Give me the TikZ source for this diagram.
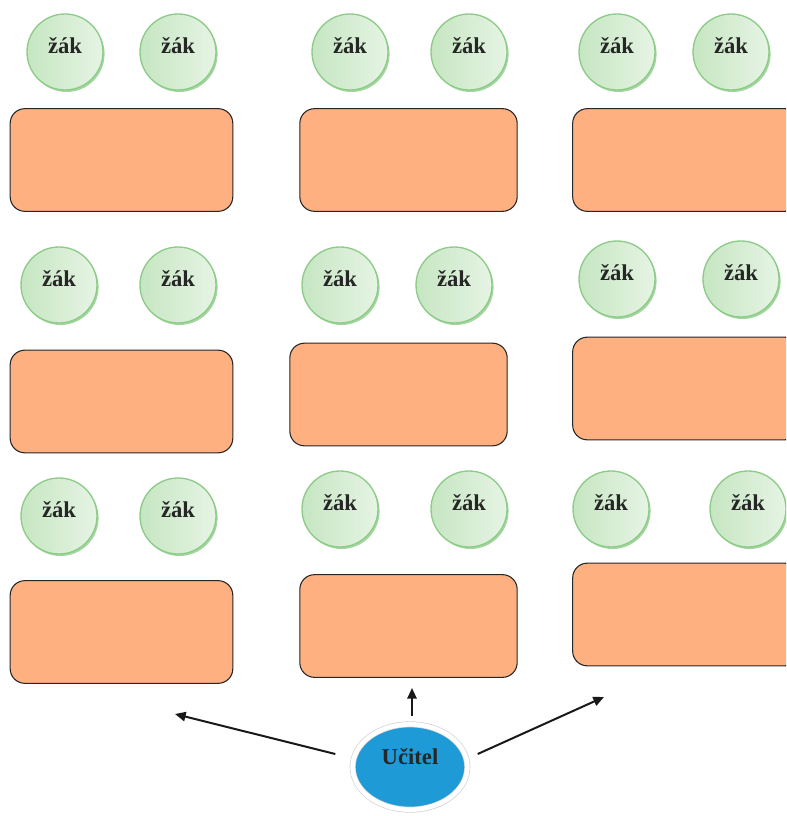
\documentclass[tikz,border=0pt]{standalone}
\usepackage{fontspec}
\setmainfont{Liberation Serif}
\usetikzlibrary{shapes.geometric,shadows,arrows.meta}

\definecolor{zakfill}{HTML}{C6E6C2}
\definecolor{zaklight}{HTML}{E6F4E4}
\definecolor{zakdraw}{HTML}{8DCB88}
\definecolor{lavicefill}{HTML}{FFB081}
\definecolor{ucitelfill}{HTML}{1E9BD7}

\tikzset{
  zak/.style={circle, minimum size=57pt, inner sep=0pt,
    draw=zakdraw, line width=1pt,
    shading=axis, shading angle=45, left color=zakfill, right color=zaklight,
    drop shadow={shadow xshift=1.2pt, shadow yshift=-1.5pt, fill=zakdraw, opacity=0.8},
    font=\fontsize{17}{20}\selectfont\bfseries, text=black!85,
    text height=12pt, text depth=10pt},
  lavice/.style={rectangle, rounded corners=11pt, draw=black!85, line width=0.8pt,
    fill=lavicefill, minimum height=77pt, inner sep=0pt},
  ucitel/.style={ellipse, minimum width=86pt, minimum height=64pt, inner sep=0pt,
    fill=ucitelfill, draw=black!18, line width=0.5pt, double=white, double distance=3.5pt,
    drop shadow={shadow xshift=1.2pt, shadow yshift=-1.8pt, fill=gray!60},
    font=\fontsize{17}{20}\selectfont\bfseries, text=black!85,
    text height=12pt, text depth=16pt},
  sipka/.style={-{Triangle[length=8pt,width=7pt]}, line width=1.5pt, black!90}
}

\begin{document}
\begin{tikzpicture}[x=0.75pt, y=-0.75pt]
  \useasboundingbox (0,0) rectangle (786,816);
  \clip (0,0) rectangle (786,816);

  % prvni rada
  \node[zak] (z11) at (65,52) {žák};
  \node[zak] (z12) at (178,52) {žák};
  \node[zak] (z13) at (350,52) {žák};
  \node[zak] (z14) at (469,52) {žák};
  \node[zak] (z15) at (617,52) {žák};
  \node[zak] (z16) at (731,52) {žák};
  \node[lavice, minimum width=167pt] (l11) at (121.5,160) {};
  \node[lavice, minimum width=163pt] (l12) at (408.5,160) {};
  \node[lavice, minimum width=170pt] (l13) at (686,160) {};

  % druha rada
  \node[zak] (z21) at (59,285) {žák};
  \node[zak] (z22) at (178,285) {žák};
  \node[zak] (z23) at (340,285) {žák};
  \node[zak] (z24) at (454,285) {žák};
  \node[zak] (z25) at (617,279) {žák};
  \node[zak] (z26) at (741,279) {žák};
  \node[lavice, minimum width=167pt] (l21) at (121.5,401.5) {};
  \node[lavice, minimum width=163pt] (l22) at (398.5,394.5) {};
  \node[lavice, minimum width=170pt] (l23) at (686,388.5) {};

  % treti rada
  \node[zak] (z31) at (59,516) {žák};
  \node[zak] (z32) at (178,516) {žák};
  \node[zak] (z33) at (340,509) {žák};
  \node[zak] (z34) at (469,509) {žák};
  \node[zak] (z35) at (611,509) {žák};
  \node[zak] (z36) at (748,509) {žák};
  \node[lavice, minimum width=167pt] (l31) at (121.5,632) {};
  \node[lavice, minimum width=163pt] (l32) at (408.5,626) {};
  \node[lavice, minimum width=170pt] (l33) at (686,614.5) {};

  % ucitel
  \node[ucitel] (t) at (410,767) {Učitel};
  \coordinate (a1) at (175,714);
  \coordinate (a2) at (412,688);
  \coordinate (a3) at (604,697);
  \draw[sipka] (t.west) ++(-17,-13) -- (a1);
  \draw[sipka] (t.north) ++(2,-8) -- (a2);
  \draw[sipka] (t.east) ++(10,-13) -- (a3);
\end{tikzpicture}
\end{document}
